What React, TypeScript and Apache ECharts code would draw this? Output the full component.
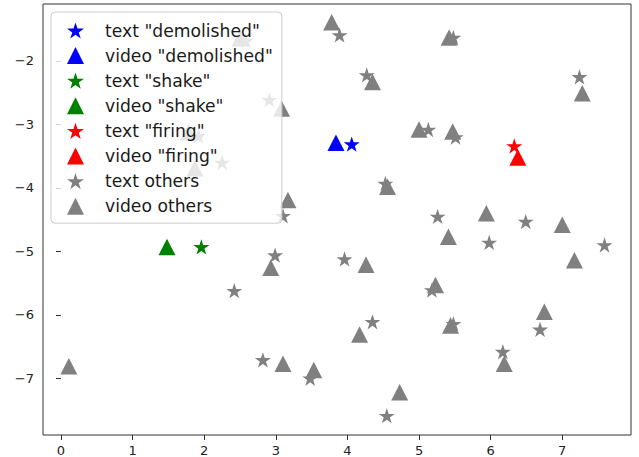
import React, { useEffect, useRef } from "react";
import * as echarts from "echarts";

// ---- data ----
const textDemolished: number[][] = [[4.06, -3.31]];
const videoDemolished: number[][] = [[3.84, -3.29]];
const textShake: number[][] = [[1.96, -4.93]];
const videoShake: number[][] = [[1.48, -4.93]];
const textFiring: number[][] = [[6.33, -3.34]];
const videoFiring: number[][] = [[6.38, -3.52]];
const textOthers: number[][] = [
  [3.89, -1.59], [5.48, -1.63], [4.27, -2.22], [7.24, -2.25], [5.13, -3.08],
  [5.51, -3.2], [4.53, -3.93], [5.26, -4.45], [6.49, -4.53], [5.98, -4.86],
  [7.59, -4.9], [3.96, -5.12], [5.18, -5.61], [6.69, -6.23], [4.35, -6.11],
  [5.48, -6.14], [6.17, -6.58], [3.48, -7.0], [4.55, -7.59], [2.99, -5.06],
  [2.42, -5.62], [2.82, -6.71], [2.58, -1.68], [2.91, -2.61], [1.92, -3.18],
  [2.25, -3.6], [3.1, -4.44],
];
const videoOthers: number[][] = [
  [3.78, -1.39], [5.42, -1.63], [4.35, -2.33], [7.28, -2.51], [5.0, -3.08],
  [5.47, -3.11], [4.56, -3.98], [5.94, -4.4], [7.0, -4.58], [5.41, -4.77],
  [4.26, -5.21], [7.17, -5.14], [5.23, -5.53], [6.75, -5.95], [4.17, -6.31],
  [5.44, -6.17], [6.19, -6.77], [3.53, -6.87], [4.73, -7.22], [2.93, -5.26],
  [0.11, -6.81], [3.1, -6.77], [2.5, -1.64], [3.08, -2.75], [1.87, -3.69],
  [3.17, -4.19], [1.78, -3.12],
];
const xTicks = [0, 1, 2, 3, 4, 5, 6, 7];
const yTicks = [-7, -6, -5, -4, -3, -2];

const STAR =
  "path://M0,-100 L22.45,-30.9 L95.11,-30.9 L36.33,11.8 L58.78,80.9 L0,38.2 L-58.78,80.9 L-36.33,11.8 L-95.11,-30.9 L-22.45,-30.9 Z";

const FONT = "DejaVu Sans";

export default function App() {
  const ref = useRef<HTMLDivElement>(null);
  useEffect(() => {
    if (!ref.current) return;
    const chart = echarts.init(ref.current, undefined, { renderer: "svg" });
    const groups = [
      { name: 'text "demolished"', data: textDemolished, color: "#0000ff", star: true },
      { name: 'video "demolished"', data: videoDemolished, color: "#0000ff", star: false },
      { name: 'text "shake"', data: textShake, color: "#008000", star: true },
      { name: 'video "shake"', data: videoShake, color: "#008000", star: false },
      { name: 'text "firing"', data: textFiring, color: "#ff0000", star: true },
      { name: 'video "firing"', data: videoFiring, color: "#ff0000", star: false },
      { name: "text others", data: textOthers, color: "#808080", star: true },
      { name: "video others", data: videoOthers, color: "#808080", star: false },
    ];
    const minus = (v: any) => String(v).replace("-", "\u2212");
    chart.setOption({
      animation: false,
      backgroundColor: "#ffffff",
      grid: {
        left: 43,
        right: 8,
        top: 4,
        bottom: 22,
        show: true,
        borderColor: "#333333",
        borderWidth: 1,
        backgroundColor: "transparent",
      },
      xAxis: {
        type: "value",
        min: -0.251,
        max: 7.96,
        splitLine: { show: false },
        axisLine: { show: false },
        axisTick: { show: true, inside: false, length: 5, lineStyle: { color: "#333" }, customValues: xTicks },
        axisLabel: {
          customValues: xTicks,
          margin: 9,
          color: "#222",
          fontFamily: FONT,
          fontSize: 13,
          formatter: minus,
        },
      },
      yAxis: {
        type: "value",
        min: -7.894,
        max: -1.102,
        splitLine: { show: false },
        axisLine: { show: false },
        axisTick: { show: true, inside: false, length: 5, lineStyle: { color: "#333" }, customValues: yTicks },
        axisLabel: {
          customValues: yTicks,
          margin: 9,
          color: "#222",
          fontFamily: FONT,
          fontSize: 13,
          formatter: minus,
        },
      },
      legend: {
        orient: "vertical",
        left: 51,
        top: 12,
        padding: [10, 9, 8.5, 16],
        itemWidth: 17,
        itemHeight: 17,
        itemGap: 8.1,
        backgroundColor: "rgba(255,255,255,0.8)",
        borderColor: "#cccccc",
        borderWidth: 1,
        borderRadius: 4,
        selectedMode: false,
        textStyle: {
          fontFamily: FONT,
          fontSize: 17.2,
          lineHeight: 17,
          color: "#1a1a1a",
          padding: [0, 0, 0, 16],
        },
        data: groups.map((g) => ({ name: g.name, icon: g.star ? STAR : "triangle" })),
      },
      series: groups.map((g) => ({
        type: "scatter",
        name: g.name,
        data: g.data,
        symbol: g.star ? STAR : "triangle",
        symbolSize: g.star ? [16, 15.3] : [17, 16.5],
        itemStyle: { color: g.color, opacity: 1 },
        emphasis: { disabled: true },
      })),
    });
    return () => chart.dispose();
  }, []);
  return (
    <div
      ref={ref}
      style={{ position: "fixed", left: 0, top: 0, width: 639, height: 457 }}
    />
  );
}
